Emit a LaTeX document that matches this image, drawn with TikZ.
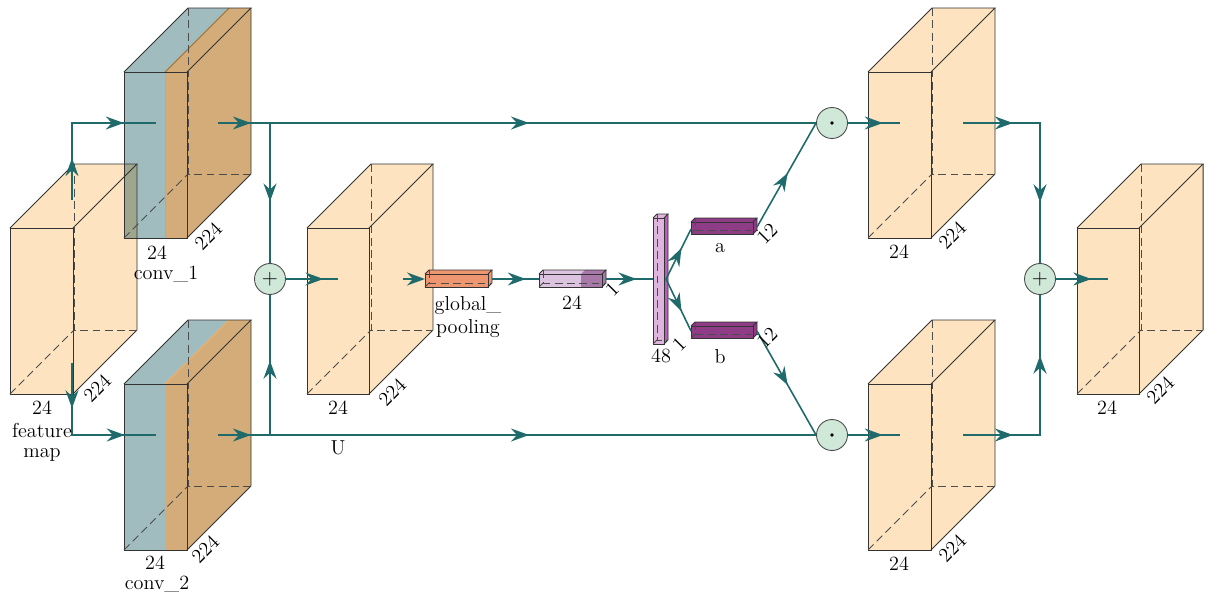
\documentclass[tikz,border=0pt]{standalone}
\usetikzlibrary{arrows.meta}
\usetikzlibrary{decorations.markings}

\definecolor{boxbeige}{HTML}{FDE3BF}
\definecolor{convblue}{HTML}{A0BCBE}
\definecolor{convtan}{HTML}{D4AC7A}
\definecolor{convedge}{HTML}{F0B060}
\definecolor{flowteal}{HTML}{1F6A6A}
\definecolor{opgreen}{HTML}{CFE8D8}
\definecolor{poolred}{HTML}{EE9670}
\definecolor{barlight}{HTML}{DCC3E0}
\definecolor{bardark}{HTML}{A878A8}
\definecolor{barpink}{HTML}{DDB5DD}
\definecolor{barmag}{HTML}{B860B8}
\definecolor{abpurple}{HTML}{8E3C86}

% #1,#2 front top left, #3 width, #4 height, #5 depth, #6 colour
\newcommand{\cubefaces}[6]{%
  \fill[#6] (#1,#2) -- ++(#5,-#5) -- ++(#3,0) -- ++(0,#4) -- ++(-#5,#5) -- ++(-#3,0) -- cycle;
}
\newcommand{\cubeedges}[5]{%
  \draw[boxline] (#1,#2) rectangle ++(#3,#4);
  \draw[boxline] (#1,#2) -- ++(#5,-#5) -- ++(#3,0) -- ++(-#5,#5);
  \draw[boxline] (#1,#2) ++(#3,#4) -- ++(#5,-#5) -- ++(0,-#4);
  \draw[hiddenline] (#1,#2) ++(#5,-#5) -- ++(0,#4) -- ++(#3,0);
  \draw[hiddenline] (#1,#2) ++(0,#4) -- ++(#5,-#5);
}
% conv block: blue part and tan part
\newcommand{\convfaces}[2]{%
  \fill[convtan] (#1,#2) ++(41,0) -- ++(64,-64) -- ++(22,0) -- ++(0,166) -- ++(-64,64) -- ++(-22,0) -- cycle;
  \fill[convblue] (#1,#2) -- ++(64,-64) -- ++(41,0) -- ++(-64,64) -- ++(0,166) -- ++(-41,0) -- cycle;
  \draw[convedge,line width=.6pt] (#1,#2) ++(41,0) -- ++(64,-64);
}

\begin{document}
\begin{tikzpicture}[x=0.2mm,y=-0.2mm,
  font=\fontsize{11.5}{13}\selectfont,
  boxline/.style={draw=black!80,line width=.55pt},
  hiddenline/.style={draw=black!70,line width=.55pt,dash pattern=on 4.5pt off 2.5pt},
  flow/.style={draw=flowteal,line width=.9pt},
  headat/.style={postaction={decorate,decoration={markings,mark=at position #1 with {\arrow[flowteal]{Stealth[length=3.6mm,width=2.6mm,inset=1.2mm]}}}}},
  opnode/.style={circle,draw=black!70,line width=.5pt,fill=opgreen,minimum size=6.2mm,inner sep=0pt},
  dimtext/.style={rotate=45,inner sep=1pt},
]
\useasboundingbox (0,0) rectangle (1207,598);

  % faces
  \cubefaces{10}{228}{63}{166}{64}{boxbeige}
  \begin{scope}[blend mode=multiply]
    \convfaces{124}{72}
  \end{scope}
  \convfaces{124}{384}
  \cubefaces{307}{228}{62}{166}{64}{boxbeige}
  \cubefaces{868}{72}{63}{166}{64}{boxbeige}
  \cubefaces{868}{384}{63}{166}{64}{boxbeige}
  \cubefaces{1077}{228}{62}{166}{64}{boxbeige}

  % edges
  \cubeedges{10}{228}{63}{166}{64}
  \cubeedges{124}{72}{63}{166}{64}
  \cubeedges{124}{384}{63}{166}{64}
  \cubeedges{307}{228}{62}{166}{64}
  \cubeedges{868}{72}{63}{166}{64}
  \cubeedges{868}{384}{63}{166}{64}
  \cubeedges{1077}{228}{62}{166}{64}

  % small bars
  \cubefaces{425}{274}{63}{13}{4}{poolred}
  \cubeedges{425}{274}{63}{13}{4}
  \cubefaces{539}{274}{63}{13}{4}{barlight}
  \cubefaces{581}{274}{21}{13}{4}{bardark}
  \cubeedges{539}{274}{63}{13}{4}
  \cubefaces{653}{218}{11}{126}{4}{barpink}
  \fill[barmag] (664,218) -- ++(4,-4) -- ++(0,126) -- ++(-4,4) -- cycle;
  \cubeedges{653}{218}{11}{126}{4}
  \cubefaces{691}{222}{62}{12}{4}{abpurple}
  \cubeedges{691}{222}{62}{12}{4}
  \cubefaces{691}{326}{62}{12}{4}{abpurple}
  \cubeedges{691}{326}{62}{12}{4}

  % operators
  \node[opnode] (add1) at (270,279) {$+$};
  \node[opnode] (add2) at (1040,279) {$+$};
  \node[opnode] (mul1) at (832,123) {};
  \node[opnode] (mul2) at (832,435) {};
  \fill[black] (mul1.center) circle (1.1pt);
  \fill[black] (mul2.center) circle (1.1pt);

  % connector ends
  \coordinate (fmup) at (72,200);
  \coordinate (fmdown) at (72,363);
  \coordinate (c1in) at (156,123);
  \coordinate (c1out) at (218,123);
  \coordinate (c2in) at (156,435);
  \coordinate (c2out) at (218,435);
  \coordinate (j1) at (270,123);
  \coordinate (j2) at (270,435);
  \coordinate (uin) at (338,279);
  \coordinate (uout) at (403,279);
  \coordinate (poolw) at (425,279);
  \coordinate (poole) at (492,279);
  \coordinate (barw) at (539,279);
  \coordinate (bare) at (606,279);
  \coordinate (b48w) at (653,279);
  \coordinate (b48c) at (666,279);
  \coordinate (aw) at (691,229);
  \coordinate (ae) at (757,227);
  \coordinate (bw) at (691,331);
  \coordinate (be) at (757,331);
  \coordinate (o1in) at (900,123);
  \coordinate (o1out) at (963,123);
  \coordinate (o2in) at (900,435);
  \coordinate (o2out) at (963,435);
  \coordinate (fin) at (1108,279);

  % flow lines
  \draw[flow,headat=.26,headat=.8] (fmup) |- (c1in);
  \draw[flow,headat=.29,headat=.8] (fmdown) |- (c2in);
  \draw[flow,headat=.055,headat=.52] (c1out) -- (mul1);
  \draw[flow,headat=.055,headat=.52] (c2out) -- (mul2);
  \draw[flow,headat=.56] (j1) -- (add1);
  \draw[flow,headat=.53] (j2) -- (add1);
  \draw[flow,headat=.72] (add1) -- (uin);
  \draw[flow,-{Stealth[length=3.6mm,width=2.6mm,inset=1.2mm]}] (uout) -- (poolw);
  \draw[flow,headat=.72] (poole) -- (barw);
  \draw[flow,headat=.65] (bare) -- (b48w);
  \draw[flow,headat=.62] (b48c) -- (aw);
  \draw[flow,headat=.62] (b48c) -- (bw);
  \draw[flow,headat=.52] (ae) -- (mul1.west);
  \draw[flow,headat=.52] (be) -- (mul2.west);
  \draw[flow,headat=.67] (mul1) -- (o1in);
  \draw[flow,headat=.67] (mul2) -- (o2in);
  \draw[flow,headat=.23,headat=.72] (o1out) -| (add2);
  \draw[flow,headat=.23,headat=.72] (o2out) -| (add2);
  \draw[flow,headat=.68] (add2) -- (fin);

  % labels
  \node (fm24) at (42,408) {24};
  \node (fmtxt1) at (42,430) {feature};
  \node (fmtxt2) at (42,455) {map};
  \node[dimtext] (fm224) at (97,388) {224};
  \node (c1w) at (157,253) {24};
  \node (c1name) at (166,274) {conv\_1};
  \node[dimtext] (c1d) at (208,236) {224};
  \node (c2w) at (155,563) {24};
  \node (c2name) at (157,584) {conv\_2};
  \node[dimtext] (c2d) at (205,549) {224};
  \node (uw) at (338,408) {24};
  \node[dimtext] (ud) at (392,392) {224};
  \node (ulabel) at (338,448) {U};
  \node (pooltxt1) at (468,306) {global\_};
  \node (pooltxt2) at (468,329) {pooling};
  \node (barw24) at (572,303) {24};
  \node[dimtext] (bar1) at (612,289) {1};
  \node (b48n) at (661,356) {48};
  \node[dimtext] (b48one) at (679,344) {1};
  \node (alabel) at (720,248) {a};
  \node[dimtext] (a12) at (767,234) {12};
  \node (blabel) at (720,357) {b};
  \node[dimtext] (b12) at (767,338) {12};
  \node (o1w) at (899,252) {24};
  \node[dimtext] (o1d) at (952,235) {224};
  \node (o2w) at (899,564) {24};
  \node[dimtext] (o2d) at (952,548) {224};
  \node (finw) at (1107,408) {24};
  \node[dimtext] (find) at (1160,390) {224};

\end{tikzpicture}
\end{document}
